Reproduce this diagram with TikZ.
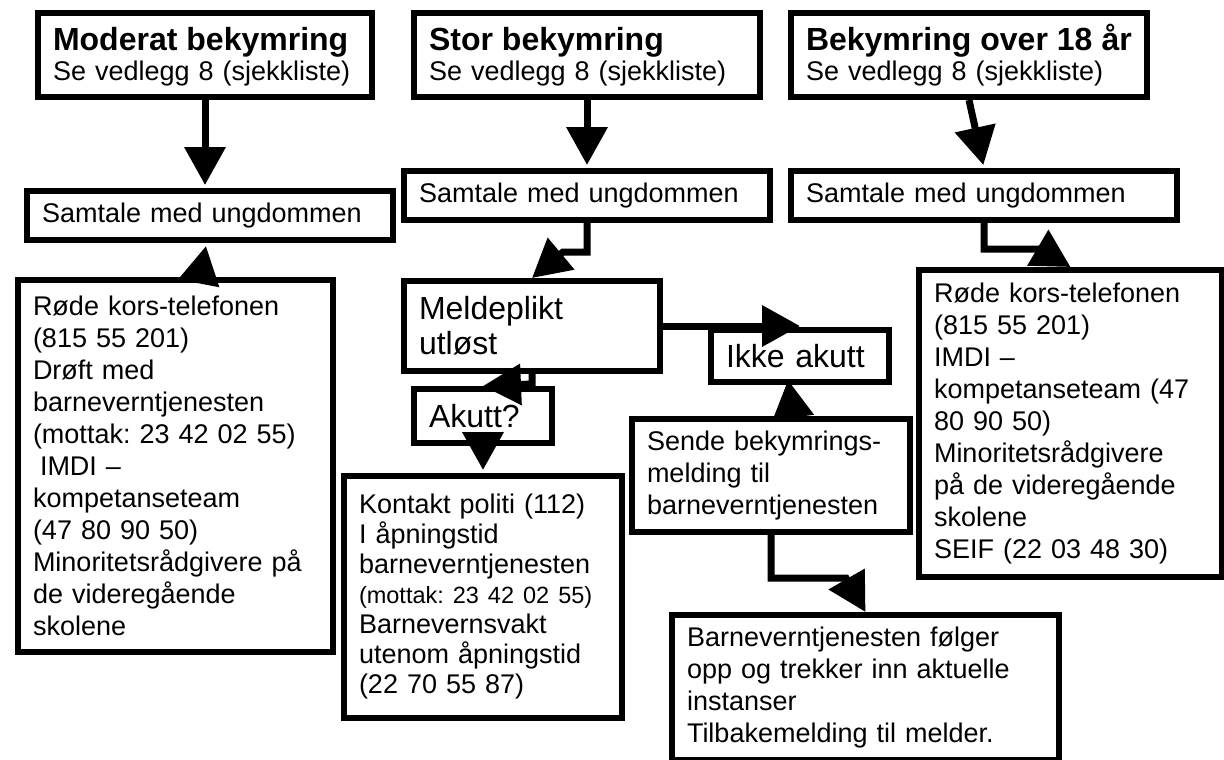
\documentclass[tikz,border=0pt]{standalone}
\usepackage{fontspec}
\setmainfont{Liberation Sans}
\usepackage{tikz}
\usetikzlibrary{arrows.meta}
\frenchspacing
\newcommand{\bodyfont}{\fontsize{27}{32}\selectfont}
\newcommand{\headfont}{\fontsize{32}{36}\selectfont\bfseries}
\newcommand{\bigfont}{\fontsize{32}{35}\selectfont}
\newcommand{\smallfont}{\fontsize{23.5}{28}\selectfont}
\tikzset{
  flowbox/.style={draw=black, line width=6pt, rectangle, anchor=north west,
                  fill=white, inner xsep=15pt, inner ysep=0pt, align=left,
                  font=\bodyfont},
  bigarr/.style={line width=7pt, black,
                 -{Triangle[length=38pt, width=40pt]}},
}
\begin{document}
\begin{tikzpicture}[x=1pt, y=-1pt]
  \useasboundingbox[fill=white] (0,0) rectangle (1224,760);

  % top row
  \node[flowbox, minimum width=334, minimum height=84, text width=304]
    (mod) at (35,10) {{\headfont\vphantom{å}Moderat bekymring}\\[-2pt]Se vedlegg 8 (sjekkliste)};
  \node[flowbox, minimum width=346, minimum height=84, text width=316]
    (stor) at (411,10) {{\headfont\vphantom{å}Stor bekymring}\\[-2pt]Se vedlegg 8 (sjekkliste)};
  \node[flowbox, minimum width=356, minimum height=84, text width=326]
    (over) at (788,10) {{\headfont Bekymring~over~18~år}\\[-2pt]Se vedlegg 8 (sjekkliste)};

  % conversations
  \node[flowbox, minimum width=366, minimum height=49, text width=336]
    (sam1) at (24,188) {Samtale med ungdommen};
  \node[flowbox, minimum width=366, minimum height=49, text width=336]
    (sam2) at (401,168) {Samtale med ungdommen};
  \node[flowbox, minimum width=386, minimum height=49, text width=356]
    (sam3) at (788,168) {Samtale med ungdommen};

  % left column
  \node[flowbox, minimum width=315, minimum height=372, text width=285]
    (rode1) at (15,277) {Røde kors-telefonen\\(815 55 201)\\Drøft med\\
      barneverntjenesten\\(mottak: 23 42 02 55)\\\hspace*{7pt}IMDI –\\
      kompetanseteam\\(47 80 90 50)\\Minoritetsrådgivere~på\\
      de videregående\\skolene};

  % middle column
  \node[flowbox, font=\bigfont, minimum width=256, minimum height=90, text width=226]
    (meld) at (401,278) {Meldeplikt\\utløst};
  \node[flowbox, font=\bigfont, minimum width=138, minimum height=54, text width=108]
    (akutt) at (411,386) {Akutt?};
  \node[flowbox, font=\bigfont, minimum width=178, minimum height=52, text width=148]
    (ikke) at (708,327) {Ikke~akutt};
  \node[flowbox, font=\fontsize{27}{30}\selectfont, minimum width=278,
        minimum height=242, text width=248]
    (kontakt) at (341,473) {Kontakt politi (112)\\I åpningstid\\
      barneverntjenesten\\{\smallfont (mottak: 23 42 02 55)}\\
      Barnevernsvakt\\utenom åpningstid\\(22 70 55 87)};
  \node[flowbox, minimum width=278, minimum height=113, text width=248]
    (sende) at (629,416) {Sende bekymrings-\\melding til\\barneverntjenesten};
  \node[flowbox, minimum width=387, minimum height=145, text width=357]
    (barn) at (669,612) {Barneverntjenesten følger\\opp og trekker inn aktuelle\\
      instanser\\Tilbakemelding til melder.};

  % right column
  \node[flowbox, minimum width=303, minimum height=307, text width=273]
    (rode2) at (916,267) {Røde kors-telefonen\\(815 55 201)\\IMDI –\\
      kompetanseteam~(47\\80 90 50)\\Minoritetsrådgivere\\
      på~de~videregående\\skolene\\SEIF (22 03 48 30)};

  % connectors
  \draw[bigarr, shorten >=3pt] (mod.south) -- (mod.south |- sam1.north);
  \draw[bigarr, shorten >=3pt] (stor.south) -- (stor.south |- sam2.north);
  \draw[bigarr, shorten >=3pt] (over.south) -- (sam3.north);
  \draw[bigarr] ([xshift=-10pt]sam1.south |- rode1.north) -- ([xshift=-4pt, yshift=-3pt]sam1.south);
  \draw[bigarr] (sam2.south) -- ++(0,29) -- ++(-24,0) -- (meld.north);
  \draw[bigarr] (meld.east) -- (meld.east -| ikke.north);
  \draw[bigarr] (meld.south) -- ++(0,10) -- (akutt.north);
  \draw[bigarr, shorten >=3pt] (akutt.south) -- (kontakt.north);
  \draw[bigarr] ([xshift=-7pt]ikke.south |- sende.north) -- ([xshift=-12pt, yshift=5pt]ikke.south);
  \draw[bigarr] (sam3.south) -- ++(0,26) -- ++(56,0) -- (rode2.north);
  \draw[bigarr] (sende.south) -- ++(0,43) -- ++(75,0) -- (barn.north);
\end{tikzpicture}
\end{document}
